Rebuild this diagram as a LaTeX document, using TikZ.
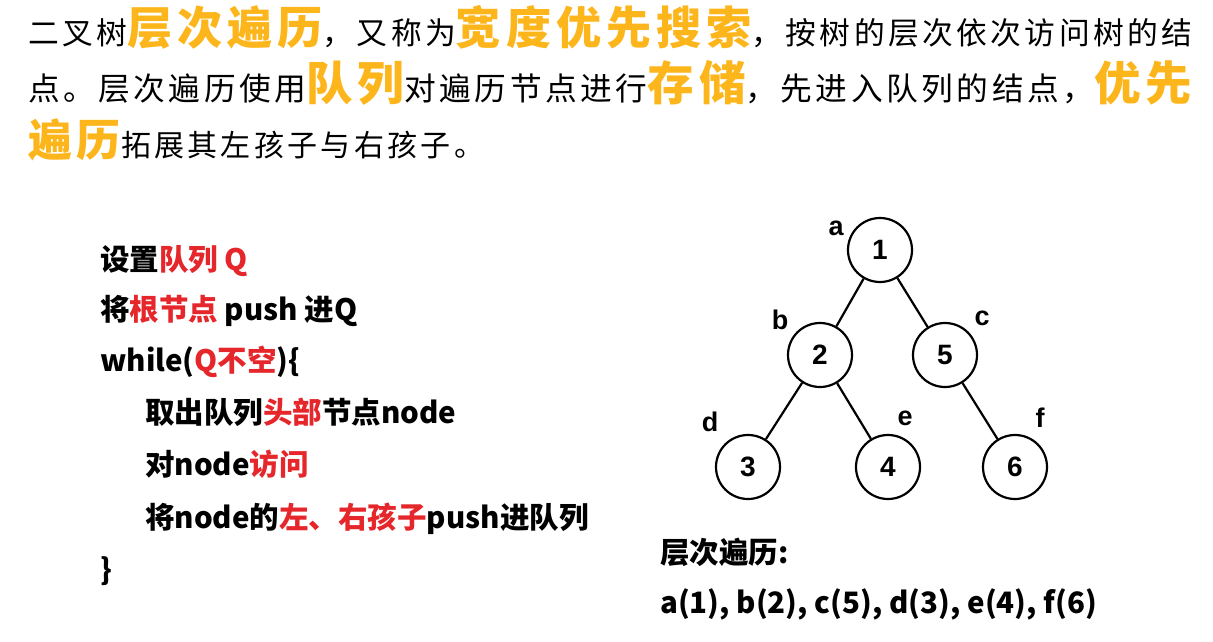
\documentclass[tikz,border=0pt]{standalone}
\usepackage{fontspec}
\setmainfont{Liberation Sans}
\newfontfamily\cjk{Noto Sans CJK SC}[LetterSpace=11]
\newfontfamily\cjkc{Noto Sans CJK SC}
\definecolor{org}{HTML}{FDB51C}
\definecolor{rd}{HTML}{E5262B}
\newcommand{\bg}[1]{{\fontsize{44}{44}\selectfont\bfseries\color{org}#1}}
\newcommand{\rr}[1]{{\color{rd}#1}}
\tikzset{
 para/.style={anchor=base west,inner sep=0,font=\cjk\fontsize{30}{30}\selectfont},
 code/.style={anchor=base west,inner sep=0,font=\cjkc\bfseries\fontsize{29.5}{30}\selectfont},
 tn/.style={circle,draw,line width=2.2pt,minimum size=64pt,inner sep=0,font=\bfseries\fontsize{28}{28}\selectfont},
 lb/.style={inner sep=0,font=\bfseries\fontsize{27}{27}\selectfont},
 ed/.style={line width=2.2pt}
}
\begin{document}
\begin{tikzpicture}[x=1pt,y=-1pt]
\useasboundingbox (0,0) rectangle (1213,642);
\node[para] (l1) at (28,45) {\resizebox{1164pt}{!}{二叉树\bg{层次遍历}，又称为\bg{宽度优先搜索}，按树的层次依次访问树的结}};
\node[para] (l2) at (28,100) {\resizebox{1164pt}{!}{点。层次遍历使用\bg{队列}对遍历节点进行\bg{存储}，先进入队列的结点，\bg{优先}}};
\node[para] (l3) at (28,156) {\bg{遍历}拓展其左孩子与右孩子。};
\node[code] (c1) at (100,270) {设置\rr{队列 Q}};
\node[code] (c2) at (100,320) {将\rr{根节点} push 进Q};
\node[code] (c3) at (100,371) {while(\rr{Q不空}){\char`\{}};
\node[code] (c4) at (145,423) {取出队列\rr{头部}节点node};
\node[code] (c5) at (145,475) {对node\rr{访问}};
\node[code] (c6) at (145,528) {将node的\rr{左、右孩子}push进队列};
\node[code] (c7) at (100,580) {\char`\}};
\node[tn] (n1) at (880,250) {1};
\node[tn] (n2) at (820,355) {2};
\node[tn] (n5) at (945,355) {5};
\node[tn] (n3) at (748,467) {3};
\node[tn] (n4) at (888,467) {4};
\node[tn] (n6) at (1015,467) {6};
\draw[ed] (n1) -- (n2); \draw[ed] (n1) -- (n5);
\draw[ed] (n2) -- (n3); \draw[ed] (n2) -- (n4);
\draw[ed] (n5) -- (n6);
\node[lb] (la) at (836,228) {a};
\node[lb] (lbb) at (780,320) {b};
\node[lb] (lc) at (982,318) {c};
\node[lb] (ld) at (710,422) {d};
\node[lb] (le) at (905,418) {e};
\node[lb] (lf) at (1040,418) {f};
\node[code] (t1) at (660,563) {层次遍历:};
\node[code] (t2) at (660,613) {a(1), b(2), c(5), d(3), e(4), f(6)};
\end{tikzpicture}
\end{document}
